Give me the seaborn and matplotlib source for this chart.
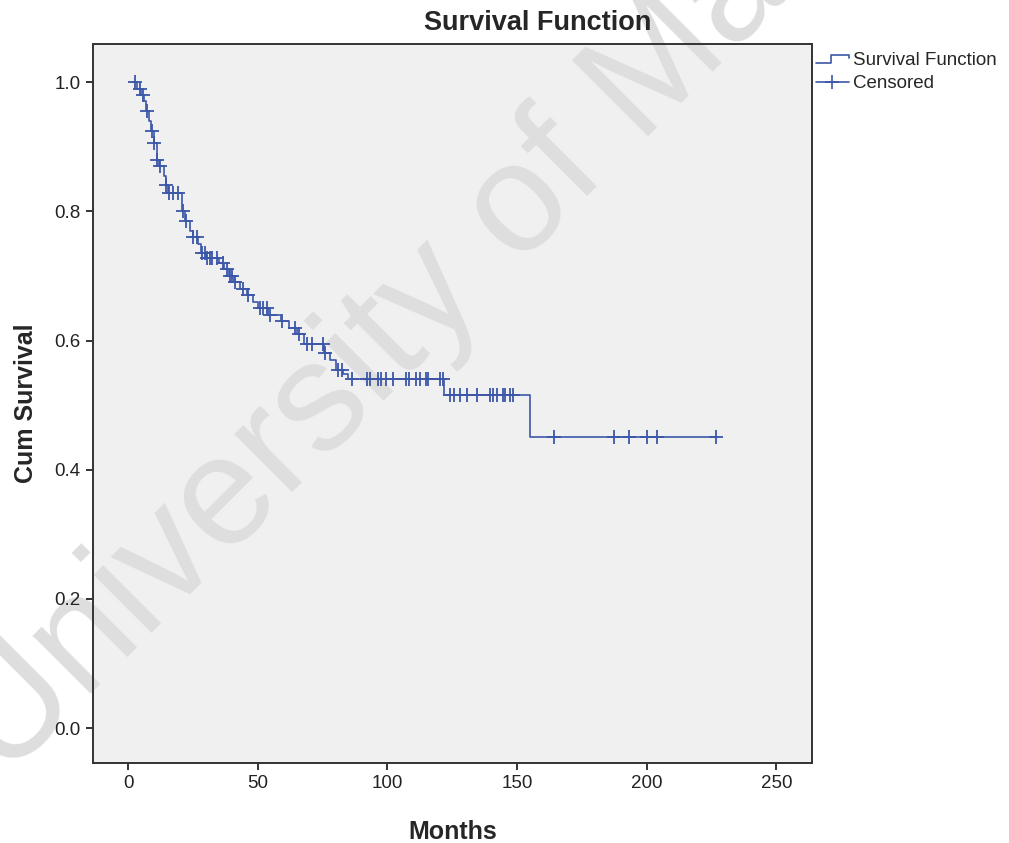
import numpy as np
import pandas as pd
import matplotlib.pyplot as plt
import seaborn as sns
from matplotlib.lines import Line2D
from matplotlib.legend_handler import HandlerBase

# step curve: months where the curve drops and survival after the drop
event_months = [1.5, 3.5, 5, 6, 7, 8, 9, 10, 11, 12, 14, 14.5, 15.5, 21, 22, 24, 25,
                27, 28, 30, 35, 37, 39, 41, 43, 46, 48, 50, 54, 59, 62, 65, 68, 75.5,
                78, 80, 83, 85, 122, 155, 227]
cum_survival = [1.0, 0.99, 0.98, 0.97, 0.955, 0.94, 0.925, 0.905, 0.88, 0.87, 0.855,
                0.84, 0.828, 0.80, 0.785, 0.77, 0.76, 0.75, 0.735, 0.727, 0.72, 0.71,
                0.70, 0.69, 0.68, 0.67, 0.66, 0.65, 0.64, 0.63, 0.62, 0.61, 0.595,
                0.58, 0.57, 0.555, 0.548, 0.54, 0.515, 0.45, 0.45]

# censored cases (months)
censored_months = [2.7, 4.6, 5.9, 7.2, 9.1, 10.0, 11.0, 12.3, 14.6, 15.9, 17.5, 19.4,
                   21.3, 22.5, 25.2, 26.5, 28.4, 29.5, 30.3, 31.6, 32.3, 34.2, 36.7,
                   38.0, 39.3, 40.2, 41.2, 44.5, 46.4, 50.9, 52.0, 53.5, 54.7, 59.3,
                   64.4, 66.0, 68.9, 70.8, 75.3, 76.0, 81.1, 82.4, 86.2, 92.0, 93.3,
                   96.5, 97.6, 99.5, 102.1, 107.2, 108.5, 111.1, 112.4, 115.0, 115.5,
                   120.1, 121.4, 124.1, 125.7, 128.0, 130.6, 134.4, 139.6, 140.8, 142.1,
                   144.4, 145.3, 147.3, 148.3, 164.2, 187.4, 193.3, 200.2, 204.0, 226.7]

x_ticks = [0, 50, 100, 150, 200, 250]
y_ticks = [0.0, 0.2, 0.4, 0.6, 0.8, 1.0]

BLUE = '#3c57a8'

curve = pd.DataFrame({'Months': event_months, 'Cum Survival': cum_survival})
idx = np.searchsorted(event_months, censored_months, side='right') - 1
cens = pd.DataFrame({'Months': censored_months,
                     'Cum Survival': np.array(cum_survival)[idx]})

sns.set_style("white")
plt.rcParams['font.family'] = ['Liberation Sans', 'DejaVu Sans']

fig = plt.figure(figsize=(10.09, 8.43), dpi=100)
ax = fig.add_axes([93/1009, 1 - 763/843, 719/1009, 719/843])
ax.set_facecolor('#f0f0f0')

# watermark, under the data
ax.text(4/1009, 1 - 780/843, 'University of Malaya', transform=fig.transFigure,
        rotation=45, rotation_mode='anchor', ha='left', va='baseline',
        fontsize=112, color='#dedede', zorder=0.5, clip_on=False)

sns.lineplot(data=curve, x='Months', y='Cum Survival', drawstyle='steps-post',
             estimator=None, sort=False, color=BLUE, lw=1.2, ax=ax, zorder=3)
sns.scatterplot(data=cens, x='Months', y='Cum Survival', marker='+', s=90,
                color=BLUE, linewidth=1.3, ax=ax, zorder=4)

ax.set_xlim(-13.5, 263.7)
ax.set_ylim(-0.054, 1.059)
ax.set_xticks(x_ticks)
ax.set_yticks(y_ticks)
ax.set_yticklabels([f'{v:.1f}' for v in y_ticks])
ax.tick_params(axis='both', direction='out', length=5, width=1.4, color='#333333',
               labelsize=13.5, labelcolor='#222222', pad=4,
               bottom=True, left=True)
for sp in ax.spines.values():
    sp.set_color('#333333')
    sp.set_linewidth(1.4)

ax.set_xlabel('Months', fontsize=18, fontweight='bold')
ax.set_ylabel('Cum Survival', fontsize=18, fontweight='bold')
ax.xaxis.set_label_coords(0.5, -0.079)
ax.yaxis.set_label_coords(-0.076, 0.5)

fig.text(538/1009, 1 - 23/843, 'Survival Function', ha='center', va='center',
         fontsize=19.5, fontweight='bold')


class StepHandler(HandlerBase):
    def create_artists(self, legend, orig_handle, xdescent, ydescent,
                       width, height, fontsize, trans):
        x0 = -xdescent
        xm = x0 + width * 0.45
        x1 = x0 + width
        lo, hi = -ydescent + height * 0.2, -ydescent + height * 0.8
        line = Line2D([x0, xm, xm, x1, x1], [lo, lo, hi, hi, hi - height * 0.25],
                      color=BLUE, lw=1.2)
        line.set_transform(trans)
        return [line]


step_handle = Line2D([], [], color=BLUE)
cens_handle = Line2D([], [], color=BLUE, lw=1.2, marker='+', markersize=10,
                     markeredgewidth=1.2)
fig.legend([step_handle, cens_handle], ['Survival Function', 'Censored'],
           handler_map={step_handle: StepHandler()},
           loc='upper left', bbox_to_anchor=(816/1009, 1 - 52/843), frameon=False,
           fontsize=13.5, handlelength=1.75, handletextpad=0.2, labelspacing=0.33,
           borderaxespad=0, borderpad=0, numpoints=1)

plt.savefig('out.png', dpi=100)
